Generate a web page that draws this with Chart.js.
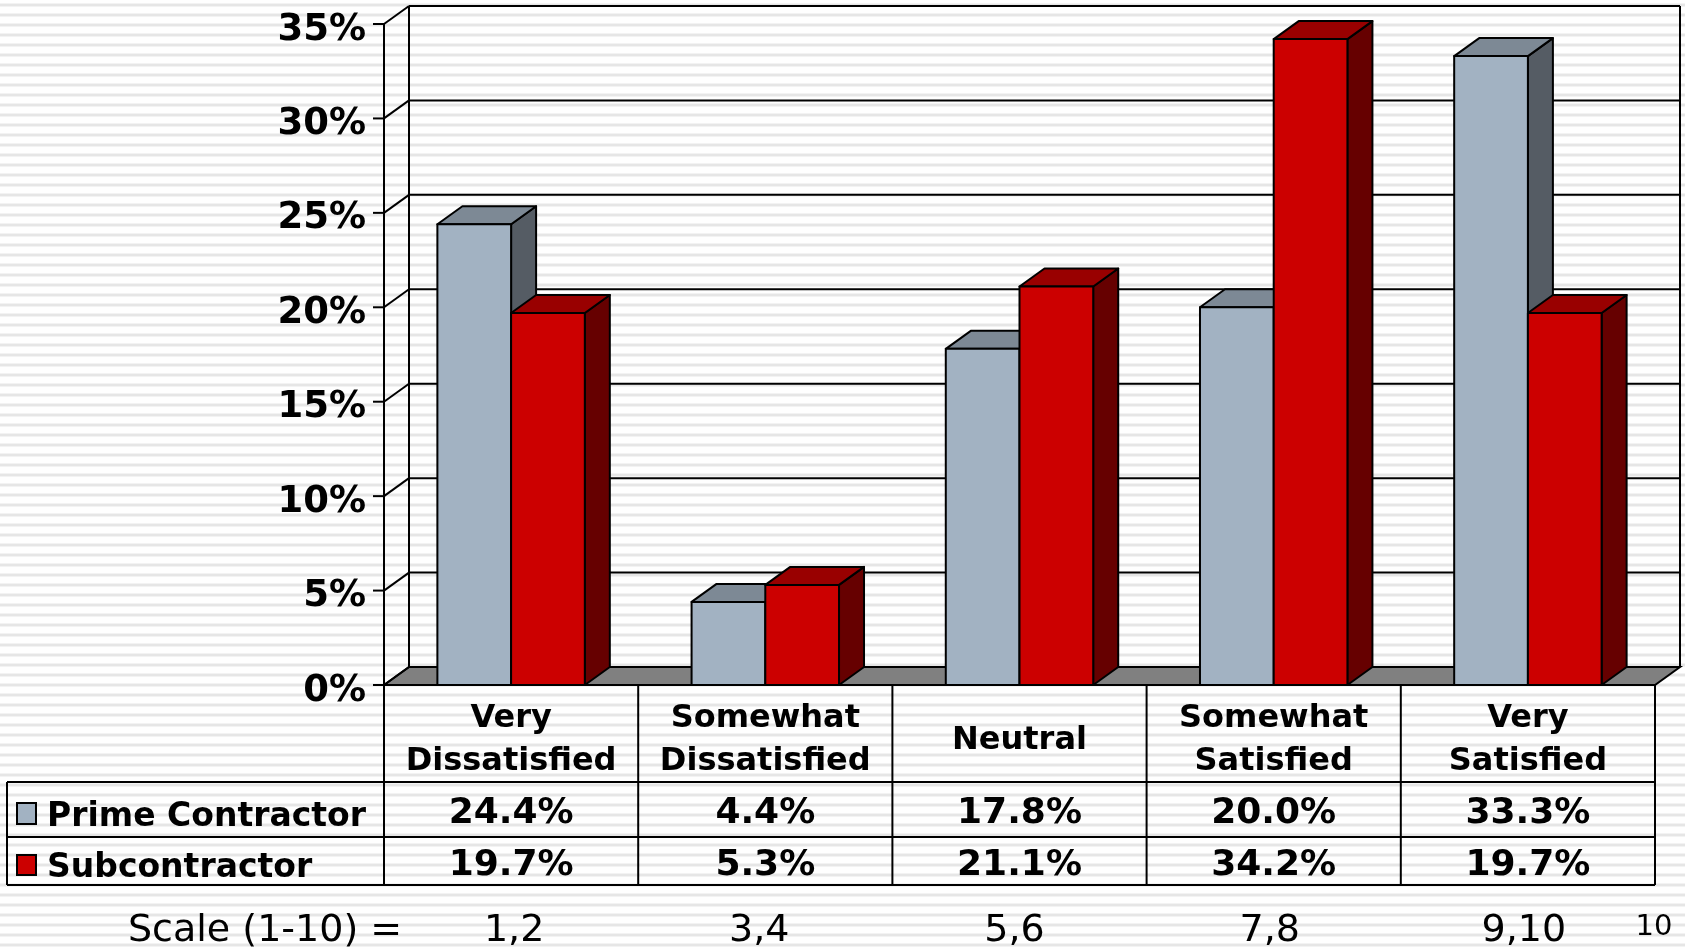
<!DOCTYPE html>
<html>
<head>
<meta charset="utf-8">
<title>Satisfaction</title>
<script src="https://cdn.jsdelivr.net/npm/chart.js@4/dist/chart.umd.js"></script>
<style>
html, body { margin: 0; padding: 0; background: #fff; }
#wrap { position: relative; width: 1685px; height: 950px; overflow: hidden;
  background: repeating-linear-gradient(180deg, #ffffff 0, #ffffff 3px, #f3f3f3 3px, #f3f3f3 4px, #e6e6e6 4px, #e6e6e6 6px, #f3f3f3 6px, #f3f3f3 7px, #ffffff 7px, #ffffff 10px); }
</style>
</head>
<body>
<div id="wrap"><canvas id="chart1" width="1685" height="950"></canvas></div>
<script>
var categories = [['Very', 'Dissatisfied'], ['Somewhat', 'Dissatisfied'], ['Neutral'], ['Somewhat', 'Satisfied'], ['Very', 'Satisfied']];
var primeValues = [24.4, 4.4, 17.8, 20.0, 33.3];
var subValues = [19.7, 5.3, 21.1, 34.2, 19.7];
var scaleLabels = ['1,2', '3,4', '5,6', '7,8', '9,10'];
var seriesNames = ['Prime Contractor', 'Subcontractor'];
var seriesColors = ['#a2b2c2', '#cc0000'];
var topColors = ['#7d8995', '#990000'];
var sideColors = ['#555c64', '#660000'];
var tickStep = 5;
var axisMax = 35;
var scaleShift = [3, -6, -5, -4, -4];

var ctx = document.getElementById('chart1').getContext('2d');
var depthX = 25;
var depthY = 18;
var ink = '#000';

function poly(c, pts, fill) {
	c.beginPath();
	c.moveTo(pts[0][0], pts[0][1]);
	for (var i = 1; i < pts.length; i++) c.lineTo(pts[i][0], pts[i][1]);
	c.closePath();
	if (fill) { c.fillStyle = fill; c.fill(); }
	c.stroke();
}

function line(c, x1, y1, x2, y2) {
	c.beginPath();
	c.moveTo(x1, y1);
	c.lineTo(x2, y2);
	c.stroke();
}

// back wall, floor and the slanted grid at the left
var wallPlugin = {
	id: 'wall',
	beforeDatasetsDraw: function(chart) {
		var c = chart.ctx, a = chart.chartArea, y = chart.scales.y;
		c.save();
		c.strokeStyle = ink;
		c.lineWidth = 2;
		poly(c, [[a.left, a.bottom], [a.left + depthX, a.bottom - depthY], [a.right + depthX, a.bottom - depthY], [a.right, a.bottom]], '#808080');
		for (var v = 0; v <= axisMax; v += tickStep) {
			var py = y.getPixelForValue(v);
			line(c, a.left + depthX, py - depthY, a.right + depthX, py - depthY);
			line(c, a.left, py, a.left + depthX, py - depthY);
			line(c, a.left - 11, py, a.left, py);
		}
		line(c, a.left + depthX, a.top - depthY, a.left + depthX, a.bottom - depthY);
		line(c, a.right + depthX, a.top - depthY, a.right + depthX, a.bottom - depthY);
		line(c, a.left, a.top, a.left, a.bottom);
		c.restore();
	},
	// side and top faces, taken from the bars the library laid out
	afterDatasetsDraw: function(chart) {
		var c = chart.ctx;
		c.save();
		c.strokeStyle = ink;
		c.lineWidth = 2;
		c.lineJoin = 'round';
		chart.data.datasets.forEach(function(ds, d) {
			chart.getDatasetMeta(d).data.forEach(function(bar, i) {
				var l = bar.x - bar.width / 2, r = bar.x + bar.width / 2;
				poly(c, [[r, bar.y], [r + depthX, bar.y - depthY], [r + depthX, bar.base - depthY], [r, bar.base]], sideColors[d]);
				poly(c, [[l, bar.y], [l + depthX, bar.y - depthY], [r + depthX, bar.y - depthY], [r, bar.y]], topColors[d]);
				poly(c, [[l, bar.y], [r, bar.y], [r, bar.base], [l, bar.base]], seriesColors[d]);
			});
		});
		c.restore();
	}
};

// data table under the axis, columns follow the category scale
var tablePlugin = {
	id: 'table',
	afterDraw: function(chart) {
		var c = chart.ctx, a = chart.chartArea, xs = chart.scales.x;
		var row0 = a.bottom, row1 = 782, row2 = 837, row3 = 885, left = 7;
		var n = categories.length, w = (a.right - a.left) / n;
		c.save();
		c.strokeStyle = ink;
		c.lineWidth = 2;
		line(c, left, row1, a.right, row1);
		line(c, left, row2, a.right, row2);
		line(c, left, row3, a.right, row3);
		line(c, left, row1, left, row3);
		for (var i = 0; i <= n; i++) line(c, a.left + w * i, row0, a.left + w * i, row3);
		poly(c, [[17, 803], [36, 803], [36, 824], [17, 824]], seriesColors[0]);
		poly(c, [[17, 855], [36, 855], [36, 875], [17, 875]], seriesColors[1]);

		c.fillStyle = '#000';
		c.textAlign = 'center';
		c.textBaseline = 'middle';
		c.font = 'bold 36px "DejaVu Sans"';
		for (i = 0; i < n; i++) {
			var cx = xs.getPixelForTick(i);
			c.fillText(primeValues[i].toFixed(1) + '%', cx, 814);
			c.fillText(subValues[i].toFixed(1) + '%', cx, 866);
		}
		c.font = 'bold 33px "DejaVu Sans"';
		c.textAlign = 'left';
		c.fillText(seriesNames[0], 47, 817);
		c.fillText(seriesNames[1], 47, 868);

		c.font = '38px "DejaVu Sans"';
		c.fillText('Scale (1-10) =', 128, 931);
		c.textAlign = 'center';
		for (i = 0; i < n; i++) c.fillText(scaleLabels[i], xs.getPixelForTick(i) + scaleShift[i], 931);
		c.font = '29px "DejaVu Sans"';
		c.fillText('10', 1654, 927);
		c.restore();
	}
};

function createChart1() {
	new Chart(ctx, {
		type: 'bar',
		data: {
			labels: categories,
			datasets: [
				{ label: seriesNames[0], data: primeValues, backgroundColor: seriesColors[0] },
				{ label: seriesNames[1], data: subValues, backgroundColor: seriesColors[1] }
			]
		},
		options: {
			responsive: false,
			animation: false,
			devicePixelRatio: 1,
			layout: { padding: { left: 0, right: 30, top: 24, bottom: 168 } },
			categoryPercentage: 0.58,
			barPercentage: 1,
			plugins: { legend: { display: false }, tooltip: { enabled: false } },
			scales: {
				x: {
					grid: { display: false, drawTicks: false },
					border: { display: false },
					ticks: {
						color: '#000',
						font: { family: 'DejaVu Sans', weight: 'bold', size: 32, lineHeight: 1.34 },
						maxRotation: 0,
						autoSkip: false,
						padding: 34,
						crossAlign: 'center'
					},
					afterFit: function(s) { s.height = 97; }
				},
				y: {
					min: 0,
					max: axisMax,
					afterFit: function(s) { s.width = 384; s.paddingTop = 0; s.paddingBottom = 0; },
					grid: { display: false },
					border: { display: false },
					ticks: {
						stepSize: tickStep,
						color: '#000',
						padding: 10,
						labelOffset: 6,
						font: { family: 'DejaVu Sans', weight: 'bold', size: 37 },
						callback: function(v) { return v + '%'; }
					}
				}
			}
		},
		plugins: [wallPlugin, tablePlugin]
	});
}

createChart1();
</script>
</body>
</html>
